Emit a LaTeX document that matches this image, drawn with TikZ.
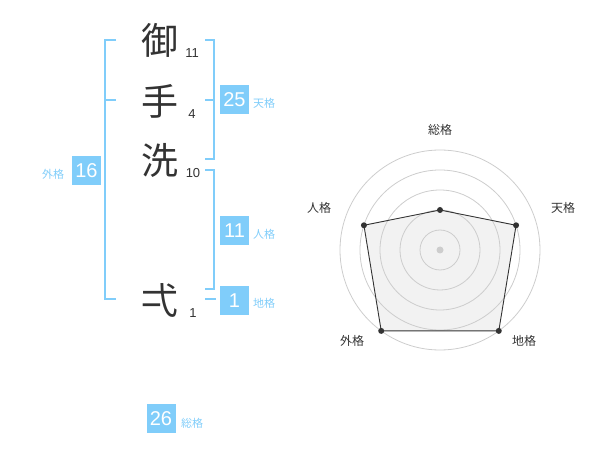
\documentclass[tikz,border=0pt]{standalone}
\usepackage{fontspec}
\setmainfont{Liberation Sans}
\newfontfamily\jp{Noto Sans CJK JP}
\definecolor{sky}{RGB}{128,205,250}
\definecolor{ink}{RGB}{51,51,51}
\definecolor{ringc}{RGB}{205,205,205}
\definecolor{polyfill}{RGB}{242,242,242}
\begin{document}
\begin{tikzpicture}[x=1pt,y=-1pt,
  kanji/.style={font=\jp\fontsize{37}{37}\selectfont, text=ink, inner sep=0pt},
  strokes/.style={font=\fontsize{13}{13}\selectfont, text=ink, inner sep=0pt},
  numbox/.style={fill=sky, text=white, minimum width=29pt, minimum height=29pt, inner sep=0pt, font=\fontsize{20}{20}\selectfont},
  lbl/.style={font=\jp\fontsize{11}{11}\selectfont, text=sky, inner sep=0pt},
  bracket/.style={draw=sky, line width=2pt},
  ring/.style={draw=ringc, line width=0.8pt},
  axislbl/.style={font=\jp\fontsize{12}{12}\selectfont, text=ink, inner sep=0pt},
  vdot/.style={circle, fill=ink, inner sep=0pt, minimum size=6pt},
  edge/.style={draw=ink, line width=0.9pt}]
\useasboundingbox (0,0) rectangle (600,470);

% characters
\node[kanji] (k1) at (160,40) {御};
\node[kanji] (k2) at (160,101) {手};
\node[kanji] (k3) at (160,160) {洗};
\node[kanji] (k4) at (160,300) {弌};
\node[strokes] (s1) at (192,53) {11};
\node[strokes] (s2) at (192,114) {4};
\node[strokes] (s3) at (193,173) {10};
\node[strokes] (s4) at (193,313) {1};

% left bracket (外格)
\draw[bracket] (116,40) -- (105,40) -- (105,299) -- (116,299);
\draw[bracket] (105,100) -- (116,100);
\node[numbox] (b16) at (86.5,170.5) {16};
\node[lbl] (l16) at (53,174) {外格};

% right top bracket (天格)
\draw[bracket] (205,40) -- (214,40) -- (214,159) -- (205,159);
\draw[bracket] (205,100) -- (214,100);
\node[numbox] (b25) at (234.5,99.5) {25};
\node[lbl] (l25) at (264,103.5) {天格};

% right second bracket (人格)
\draw[bracket] (205,170) -- (214,170) -- (214,289) -- (205,289);
\node[numbox] (b11) at (234.5,230.5) {11};
\node[lbl] (l11) at (264,234) {人格};

% 地格
\coordinate (g0) at (205,299);
\coordinate (g1) at (216,299);
\draw[bracket] (g0) -- (g1);
\node[numbox] (b1) at (234.5,300.5) {1};
\node[lbl] (l1) at (264,303) {地格};

% 総格
\node[numbox] (b26) at (161,418.5) {26};
\node[lbl] (l26) at (192,423) {総格};

% radar chart
\coordinate (c) at (440,250);
\coordinate (pS) at (440,210);
\coordinate (pT) at ({440+80*cos(18)},{250-80*sin(18)});
\coordinate (pC) at ({440+100*cos(54)},{250+100*sin(54)});
\coordinate (pG) at ({440-100*cos(54)},{250+100*sin(54)});
\coordinate (pJ) at ({440-80*cos(18)},{250-80*sin(18)});
\fill[polyfill] (pS) -- (pT) -- (pC) -- (pG) -- (pJ) -- cycle;
\foreach \r in {20,40,60,80,100} \draw[ring] (c) circle[radius=\r];
\fill[ringc] (c) circle[radius=3.5];
\draw[edge] (pS) -- (pT) -- (pC) -- (pG) -- (pJ) -- cycle;
\foreach \p in {pS,pT,pC,pG,pJ} \node[vdot] at (\p) {};
\node[axislbl] (aS) at (440,130) {総格};
\node[axislbl] (aT) at (563,208) {天格};
\node[axislbl] (aJ) at (319,208) {人格};
\node[axislbl] (aG) at (352,341) {外格};
\node[axislbl] (aC) at (524,341) {地格};
\end{tikzpicture}
\end{document}
